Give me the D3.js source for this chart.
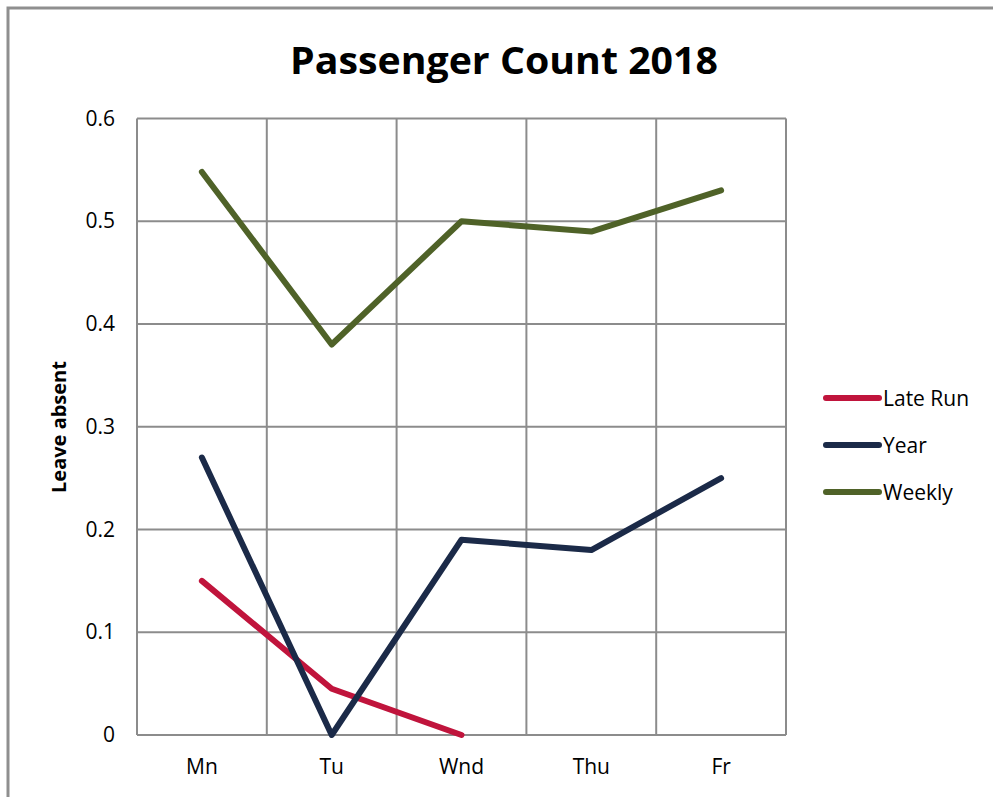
<!DOCTYPE html>
<meta charset="utf-8">
<script src="https://d3js.org/d3.v7.min.js"></script>
<style>
  body { margin: 0; background: #fff; }
  text { font-family: "Open Sans", "Liberation Sans", sans-serif; fill: #000; }
</style>
<div id="chart"></div>
<script>
// data
var days = ["Mn", "Tu", "Wnd", "Thu", "Fr"];
var lateRun = [0.15, 0.045, 0, null, null];
var year = [0.27, 0, 0.19, 0.18, 0.25];
var weekly = [0.548, 0.38, 0.5, 0.49, 0.53];
var yTicks = [0, 0.1, 0.2, 0.3, 0.4, 0.5, 0.6];

var seriesList = [
  {name: "Late Run", values: lateRun, color: "#c0143c"},
  {name: "Year", values: year, color: "#1b2a48"},
  {name: "Weekly", values: weekly, color: "#4f6228"}
];

var W = 993, H = 797;
var margin = {top: 118.5, right: 207, bottom: 62, left: 137};

var svg = d3.select("#chart").append("svg")
    .attr("width", W)
    .attr("height", H);

// outer frame (runs off the right and bottom edge)
svg.append("rect")
    .attr("x", 8).attr("y", 8)
    .attr("width", 1000).attr("height", 1000)
    .attr("fill", "none")
    .attr("stroke", "#8f8f8f")
    .attr("stroke-width", 3);

var x = d3.scaleBand()
    .domain(days)
    .range([margin.left, W - margin.right]);

var y = d3.scaleLinear()
    .domain([0, 0.6])
    .range([H - margin.bottom, margin.top]);

// title
svg.append("text")
    .attr("x", 504).attr("y", 74)
    .attr("text-anchor", "middle")
    .style("font-size", "37px")
    .style("font-weight", "bold")
    .attr("textLength", 428)
    .attr("lengthAdjust", "spacingAndGlyphs")
    .text("Passenger Count 2018");

// grid
var grid = svg.append("g").attr("stroke", "#8c8c8c").attr("stroke-width", 2);
grid.selectAll(".h").data(yTicks).enter().append("line")
    .attr("x1", x.range()[0]).attr("x2", x.range()[1])
    .attr("y1", function(d) { return y(d); })
    .attr("y2", function(d) { return y(d); });
var vLines = days.map(function(d) { return x(d); }).concat([x.range()[1]]);
grid.selectAll(".v").data(vLines).enter().append("line")
    .attr("x1", function(d) { return d; }).attr("x2", function(d) { return d; })
    .attr("y1", y(0.6)).attr("y2", y(0));

// y axis labels
var yAxis = d3.axisLeft(y).tickValues(yTicks).tickSize(0).tickPadding(22)
    .tickFormat(function(d) { return d === 0 ? "0" : d3.format(".1f")(d); });
var gy = svg.append("g")
    .attr("transform", "translate(" + margin.left + ",0)")
    .call(yAxis);
gy.select(".domain").remove();
gy.selectAll("text").style("font-size", "21px").style("font-family", "'Open Sans', sans-serif").attr("fill", "#000");

// x axis labels
var xAxis = d3.axisBottom(x).tickSize(0).tickPadding(24);
var gx = svg.append("g")
    .attr("transform", "translate(0," + y(0) + ")")
    .call(xAxis);
gx.select(".domain").remove();
gx.selectAll("text").style("font-size", "21px").style("font-family", "'Open Sans', sans-serif").attr("fill", "#000");

// y axis title
svg.append("text")
    .attr("transform", "translate(66,427) rotate(-90)")
    .attr("text-anchor", "middle")
    .style("font-size", "20px")
    .style("font-weight", "bold")
    .text("Leave absent");

// lines
var line = d3.line()
    .defined(function(d) { return d.v != null; })
    .x(function(d) { return x(d.day) + x.bandwidth() / 2; })
    .y(function(d) { return y(d.v); });

svg.append("g").selectAll("path")
    .data(seriesList).enter().append("path")
    .attr("fill", "none")
    .attr("stroke", function(d) { return d.color; })
    .attr("stroke-width", 6)
    .attr("stroke-linecap", "round")
    .attr("stroke-linejoin", "round")
    .attr("d", function(s) {
      return line(s.values.map(function(v, i) { return {day: days[i], v: v}; }));
    });

// legend
var legend = svg.append("g").selectAll("g")
    .data(seriesList).enter().append("g")
    .attr("transform", function(d, i) { return "translate(826," + (398 + i * 47) + ")"; });
legend.append("line")
    .attr("x1", 0).attr("x2", 53)
    .attr("stroke", function(d) { return d.color; })
    .attr("stroke-width", 6)
    .attr("stroke-linecap", "round");
legend.append("text")
    .attr("x", 57).attr("y", 8)
    .style("font-size", "21px")
    .text(function(d) { return d.name; });
</script>
